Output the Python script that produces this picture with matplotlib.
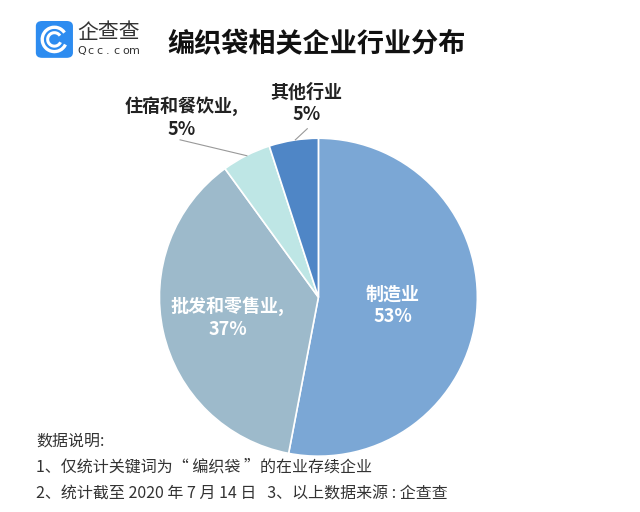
import matplotlib.pyplot as plt
from matplotlib.patches import FancyBboxPatch, Arc

plt.rcParams['font.family'] = ['Noto Sans CJK SC', 'DejaVu Sans']

# data
industries = ["制造业", "批发和零售业", "住宿和餐饮业", "其他行业"]
shares = [53, 37, 5, 5]
colors = ["#7BA7D5", "#9DBACB", "#BEE6E5", "#4F86C6"]

fig = plt.figure(figsize=(6.4, 5.12), dpi=100)

# pie
ax = fig.add_axes([0.249, 0.109, 0.497, 0.621])
wedges, _ = ax.pie(shares, colors=colors, startangle=90, counterclock=False,
                   wedgeprops=dict(edgecolor="white", linewidth=1.2))
ax.set_xlim(-1, 1)
ax.set_ylim(-1, 1)
ax.set_aspect("equal")

# labels inside
ax.text(0.47, -0.05, "制造业\n53%", color="white", fontsize=13, fontweight="bold",
        ha="center", va="center", linespacing=1.25)
ax.text(-0.57, -0.13, "批发和零售业,\n37%", color="white", fontsize=13, fontweight="bold",
        ha="center", va="center", linespacing=1.25)

# labels outside with leader lines
ax.plot([-0.87, -0.45], [0.99, 0.89], color="#999999", lw=0.8, clip_on=False)
ax.plot([-0.07, -0.145], [1.06, 0.99], color="#999999", lw=0.8, clip_on=False)
ax.text(-0.86, 1.13, "住宿和餐饮业,\n5%", fontsize=13, fontweight="bold", color="#222222",
        ha="center", va="center", linespacing=1.25)
ax.text(-0.075, 1.22, "其他行业\n5%", fontsize=13, fontweight="bold", color="#222222",
        ha="center", va="center", linespacing=1.25)

# header: logo
logo = FancyBboxPatch((0.056, 0.887), 0.058, 0.072, boxstyle="round,pad=0,rounding_size=0.01",
                      transform=fig.transFigure, facecolor="#2D8CF0", edgecolor="none")
fig.patches.append(logo)
for r, lw in [(0.038, 2.4), (0.021, 2.2)]:
    fig.patches.append(Arc((0.085, 0.923), r, r * 1.25, theta1=40, theta2=330,
                           transform=fig.transFigure, color="white", lw=lw))
fig.text(0.121, 0.938, "企查查", fontsize=15, color="#333333", ha="left", va="center",
         fontweight="light")
for i, ch in enumerate("Qcc.com"):
    fig.text(0.127 + i * 0.0139, 0.900, ch, fontsize=8, color="#333333", ha="center",
             va="center", family=["DejaVu Sans"])

# title
fig.text(0.262, 0.914, "编织袋相关企业行业分布", fontsize=19.5, fontweight="bold",
         color="#111111", ha="left", va="center")

# footer notes
notes = ["数据说明:",
         "1、仅统计关键词为“ 编织袋 ”的在业存续企业",
         "2、统计截至 2020 年 7 月 14 日   3、以上数据来源 : 企查查"]
for i, line in enumerate(notes):
    fig.text(0.057, 0.139 - i * 0.052, line, fontsize=11.5, color="#333333",
             ha="left", va="center")

plt.savefig("out.png", dpi=100)
